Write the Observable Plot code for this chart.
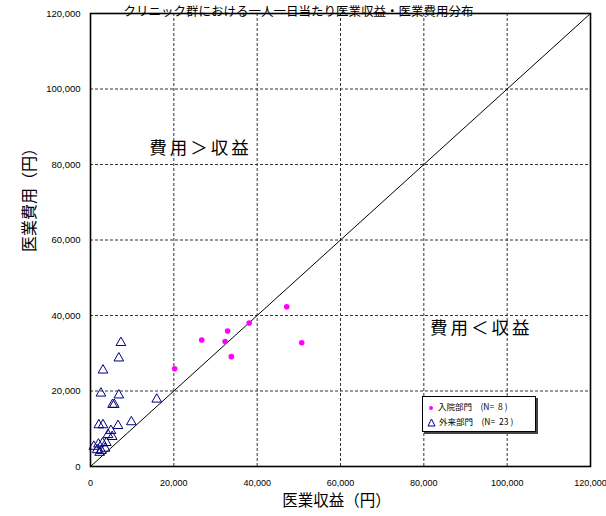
<!DOCTYPE html>
<html>
<head>
<meta charset="utf-8">
<script src="https://cdn.jsdelivr.net/npm/d3@7"></script>
<script src="https://cdn.jsdelivr.net/npm/@observablehq/plot@0.6"></script>
<style>
  html, body { margin: 0; padding: 0; background: white; }
  #wrap { position: relative; width: 606px; height: 516px; overflow: hidden; }
  #legend {
    position: absolute; left: 422px; top: 396px; width: 112px; height: 34px;
    background: white; border: 1px solid #000; box-shadow: 2px 2px 0 #444;
    font-family: "Noto Sans CJK JP", sans-serif; font-size: 8.5px; color: #000;
  }
  #legend .row { position: absolute; left: 4px; white-space: pre; line-height: 12px; }
  #legend svg { vertical-align: middle; margin-right: 3px; }
  .annot text { letter-spacing: 3px; }
</style>
</head>
<body>
<div id="wrap">
  <div id="chart"></div>
  <div id="legend"></div>
</div>
<script>
const title = "クリニック群における一人一日当たり医業収益・医業費用分布";
const xLabel = "医業収益（円）";
const yLabel = "医業費用（円）";
const ticks = [0, 20000, 40000, 60000, 80000, 100000, 120000];
const gridTicks = [20000, 40000, 60000, 80000, 100000];

// 入院部門 (inpatient)
const inpatientRevenue = [20200, 26700, 32300, 32900, 33800, 38100, 47100, 50700];
const inpatientCost    = [25900, 33500, 33100, 35900, 29100, 38000, 42300, 32800];

// 外来部門 (outpatient)
const outpatientRevenue = [7300, 6800, 3000, 2500, 6800, 15900, 5300, 5700,
                           2000, 3000, 6600, 9800, 4900, 4200, 5200,
                           800, 1900, 2900, 3800, 1600, 2600, 3500, 2200];
const outpatientCost    = [32800, 28700, 25500, 19400, 18900, 17800, 16400, 16400,
                           11000, 11000, 10800, 11800, 9500, 8400, 7900,
                           5300, 5900, 6200, 6300, 4400, 4200, 4800, 3700];

const legendItems = ["入院部門　(N=  8 )", "外来部門　(N=  23 )"];
const annotations = [
  {x: 26400, y: 84300, text: "費用＞収益"},
  {x: 93800, y: 36600, text: "費用＜収益"}
];
const diagonal = [0, 120000];

const inpatient = inpatientRevenue.map((r, i) => ({r, c: inpatientCost[i]}));
const outpatient = outpatientRevenue.map((r, i) => ({r, c: outpatientCost[i]}));
const diag = diagonal.map(v => ({r: v, c: v}));

const fmt = d3.format(",");
const jp = "'Noto Sans CJK JP', sans-serif";
const lat = "'Liberation Sans', Arial, sans-serif";

const chart = Plot.plot({
  width: 606,
  height: 516,
  marginLeft: 90,
  marginRight: 16,
  marginTop: 13,
  marginBottom: 50,
  style: {background: "white", overflow: "visible"},
  x: {domain: [0, 120000]},
  y: {domain: [0, 120000]},
  marks: [
    Plot.ruleX(gridTicks, {x: d => d, stroke: "#333", strokeWidth: 1, strokeDasharray: "3,2"}),
    Plot.ruleY(gridTicks, {y: d => d, stroke: "#333", strokeWidth: 1, strokeDasharray: "3,2"}),
    Plot.line(diag, {x: "r", y: "c", stroke: "black", strokeWidth: 1}),
    Plot.dot(outpatient, {x: "r", y: "c", symbol: "triangle", r: 3.6, stroke: "#000080", strokeWidth: 1, fill: "none"}),
    Plot.dot(inpatient, {x: "r", y: "c", r: 2.8, fill: "#ff00ff", stroke: "none"}),
    Plot.frame({stroke: "black", strokeWidth: 1.6}),
    Plot.axisX({ticks, tickSize: 0, tickPadding: 13, tickFormat: fmt, fontSize: 9, fontFamily: lat, label: null}),
    Plot.axisY({ticks, tickSize: 0, tickPadding: 10, tickFormat: fmt, fontSize: 9.5, fontFamily: lat, label: null}),
    Plot.text([xLabel], {frameAnchor: "bottom", dx: -4, dy: 39, text: d => d, fontSize: 15.5, fontFamily: jp, fill: "black"}),
    Plot.text([yLabel], {frameAnchor: "left", textAnchor: "middle", dx: -61, dy: -44, rotate: -90, text: d => d, fontSize: 16, fontFamily: jp, fill: "black"}),
    Plot.text([title], {frameAnchor: "top", dx: -42, dy: -6, text: d => d, fontSize: 12.5, fontFamily: jp, fill: "black"}),
    Plot.text(annotations, {x: "x", y: "y", text: "text", fontSize: 17.5, fontFamily: jp, fill: "black", className: "annot"})
  ]
});
document.getElementById("chart").appendChild(chart);

const legend = document.getElementById("legend");
const symbols = [
  '<svg width="8" height="8"><circle cx="4" cy="4" r="2" fill="#ff00ff"/></svg>',
  '<svg width="9" height="9"><path d="M4.5,1 L8,8 L1,8 Z" fill="none" stroke="#000080" stroke-width="1"/></svg>'
];
legendItems.forEach((t, i) => {
  const row = document.createElement("div");
  row.className = "row";
  row.style.top = (3 + i * 15) + "px";
  row.innerHTML = symbols[i] + t;
  legend.appendChild(row);
});
</script>
</body>
</html>
